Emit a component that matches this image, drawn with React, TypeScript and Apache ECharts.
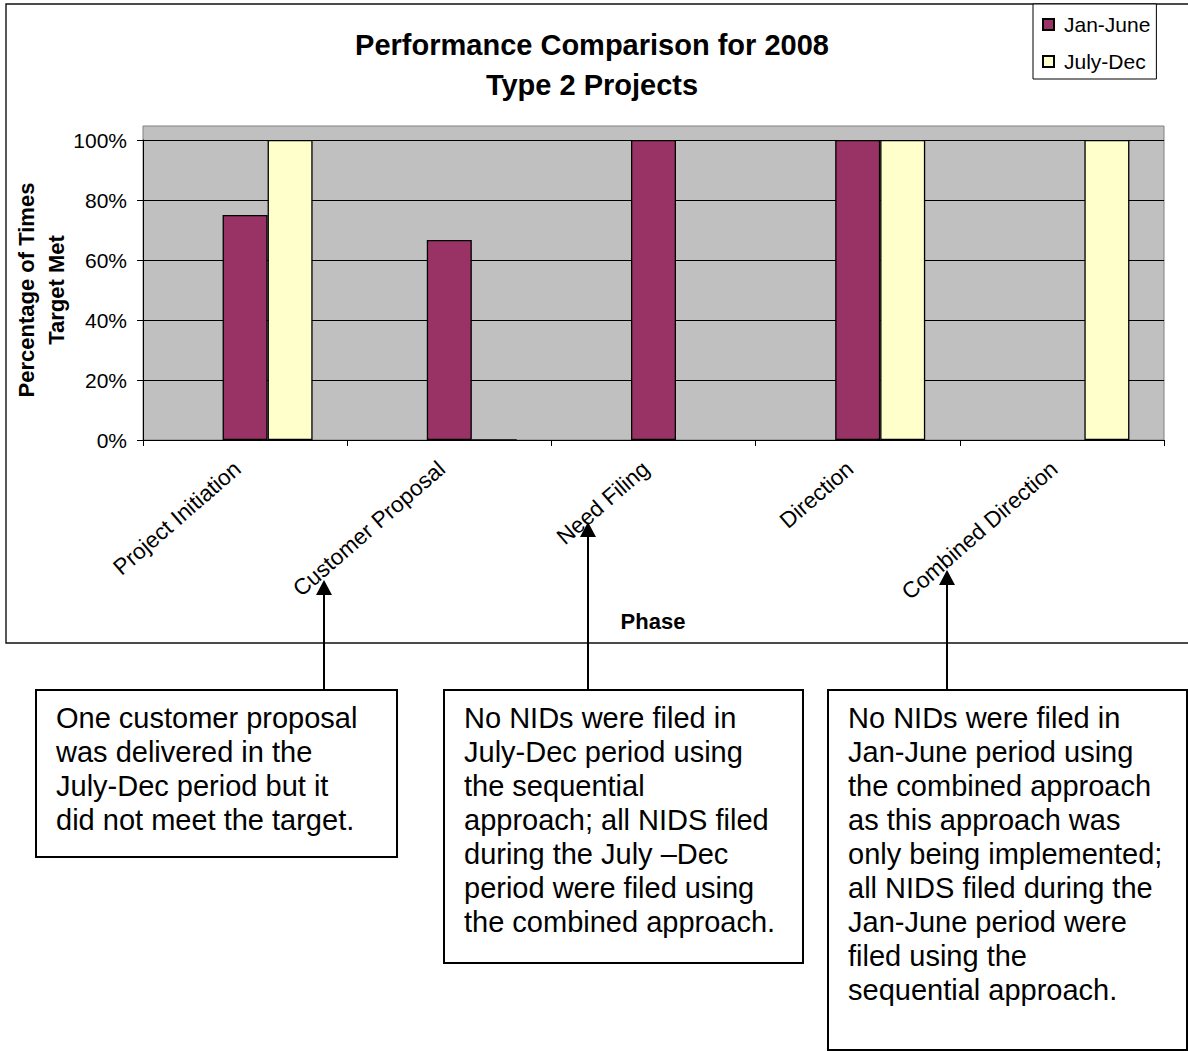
import React, { useEffect, useRef } from "react";
import * as echarts from "echarts";

const categories = ["Project Initiation", "Customer Proposal", "Need Filing", "Direction", "Combined Direction"];
const placeholderValues = [null, null, null, null, null];
const janJuneValues = [0.75, 0.667, 1.0, 1.0, null];
const julyDecValues = [1.0, 0, null, 1.0, 1.0];
const seriesNames = ["Jan-June", "July-Dec"];
const titleLines = ["Performance Comparison for 2008", "Type 2 Projects"];
const yAxisTitleLines = ["Percentage of Times", "Target Met"];
const xAxisTitle = "Phase";
const noteTexts = [
  "One customer proposal\nwas delivered in the\nJuly-Dec period but it\ndid not meet the target.",
  "No NIDs were filed in\nJuly-Dec period using\nthe sequential\napproach; all NIDS filed\nduring the July \u2013Dec\nperiod were filed using\nthe combined approach.",
  "No NIDs were filed in\nJan-June period using\nthe combined approach\nas this approach was\nonly being implemented;\nall NIDS filed during the\nJan-June period were\nfiled using the\nsequential approach.",
];

const FONT = "'Liberation Sans', Arial, Helvetica, sans-serif";

export default function App() {
  const ref = useRef<HTMLDivElement>(null);

  useEffect(() => {
    if (!ref.current) return;
    const chart = echarts.init(ref.current, null, { renderer: "svg" });

    const notes = [
      { x: 36, y: 690, w: 361, h: 167, tx: 56, arrowX: 324, tipY: 580 },
      { x: 444, y: 690, w: 359, h: 273, tx: 464, arrowX: 588, tipY: 522 },
      { x: 828, y: 690, w: 359, h: 360, tx: 848, arrowX: 947, tipY: 570 },
    ];

    const graphics: any[] = [
      {
        type: "rect",
        z: -10,
        shape: { x: 6, y: 4, width: 1200, height: 639 },
        style: { fill: "none", stroke: "#111", lineWidth: 1.4 },
        silent: true,
      },
      {
        type: "rect",
        shape: { x: 143, y: 126, width: 1021, height: 14 },
        style: { fill: "#C0C0C0", stroke: "none" },
        silent: true,
      },
      {
        type: "polyline",
        shape: { points: [[143, 140], [143, 126], [1164, 126], [1164, 140]] },
        style: { fill: "none", stroke: "#808080", lineWidth: 1 },
        silent: true,
      },
      {
        type: "text",
        x: 41,
        y: 290,
        rotation: Math.PI / 2,
        style: {
          text: yAxisTitleLines.join("\n"),
          font: `bold 22px ${FONT}`,
          fill: "#000",
          align: "center",
          verticalAlign: "middle",
          lineHeight: 30,
        },
      },
      {
        type: "text",
        x: 653,
        y: 621,
        style: {
          text: xAxisTitle,
          font: `bold 22px ${FONT}`,
          fill: "#000",
          align: "center",
          verticalAlign: "middle",
        },
      },
    ];

    notes.forEach((n, i) => {
      graphics.push({
        type: "line",
        shape: { x1: n.arrowX, y1: n.y, x2: n.arrowX, y2: n.tipY + 12 },
        style: { stroke: "#000", lineWidth: 2 },
      });
      graphics.push({
        type: "polygon",
        shape: { points: [[n.arrowX, n.tipY], [n.arrowX - 8, n.tipY + 15], [n.arrowX + 8, n.tipY + 15]] },
        style: { fill: "#000", stroke: "none" },
      });
      graphics.push({
        type: "rect",
        shape: { x: n.x, y: n.y, width: n.w, height: n.h },
        style: { fill: "#fff", stroke: "#000", lineWidth: 2 },
      });
      graphics.push({
        type: "text",
        x: n.tx,
        y: 701,
        style: {
          text: noteTexts[i],
          font: `29px ${FONT}`,
          fill: "#000",
          align: "left",
          verticalAlign: "top",
          lineHeight: 34,
        },
      });
    });

    const option: any = {
      animation: false,
      backgroundColor: "#fff",
      title: {
        text: titleLines.join("\n"),
        left: 592,
        top: 25,
        padding: 0,
        textAlign: "center",
        textStyle: {
          fontFamily: FONT,
          fontSize: 29,
          fontWeight: "bold",
          color: "#000",
          lineHeight: 40,
        },
      },
      legend: {
        data: seriesNames,
        orient: "vertical",
        left: 1033,
        top: 4,
        padding: [10, 6, 7, 9],
        itemGap: 16,
        itemWidth: 11,
        itemHeight: 11,
        icon: "rect",
        backgroundColor: "#fff",
        borderColor: "#000",
        borderWidth: 1,
        textStyle: {
          fontFamily: FONT,
          fontSize: 21,
          color: "#000",
          lineHeight: 21,
          padding: [0, 0, 0, 5],
        },
      },
      grid: {
        left: 143,
        right: 24,
        top: 140,
        bottom: 611,
        show: true,
        backgroundColor: "#C0C0C0",
        borderColor: "#808080",
        borderWidth: 1,
        containLabel: false,
      },
      xAxis: {
        type: "category",
        data: categories,
        axisLine: { show: true, lineStyle: { color: "#000", width: 1 } },
        axisTick: { show: true, interval: 0, length: 6, lineStyle: { color: "#000" } },
        axisLabel: {
          interval: 0,
          rotate: 41,
          margin: 19,
          padding: [0, 10, 0, 0],
          fontFamily: FONT,
          fontSize: 22.5,
          color: "#000",
        },
        splitLine: { show: false },
      },
      yAxis: {
        type: "value",
        min: 0,
        max: 1,
        interval: 0.2,
        axisLine: { show: true, lineStyle: { color: "#000", width: 1 } },
        axisTick: { show: true, length: 6, lineStyle: { color: "#000" } },
        axisLabel: {
          margin: 16,
          fontFamily: FONT,
          fontSize: 21,
          color: "#000",
          formatter: (v: number) => `${Math.round(v * 100)}%`,
        },
        splitLine: { show: true, lineStyle: { color: "#000", width: 1 } },
      },
      series: [
        {
          name: "Placeholder",
          type: "bar",
          data: placeholderValues,
          barWidth: 45,
          barGap: "0%",
          itemStyle: { color: "#9999FF", borderColor: "#000", borderWidth: 1.3 },
        },
        {
          name: seriesNames[0],
          type: "bar",
          data: janJuneValues,
          barWidth: 45,
          barGap: "0%",
          itemStyle: { color: "#993366", borderColor: "#000", borderWidth: 1.3 },
        },
        {
          name: seriesNames[1],
          type: "bar",
          data: julyDecValues,
          barWidth: 45,
          barGap: "0%",
          itemStyle: { color: "#FFFFCC", borderColor: "#000", borderWidth: 1.3 },
        },
      ],
      graphic: { elements: graphics },
    };

    chart.setOption(option);
    return () => chart.dispose();
  }, []);

  return (
    <div
      ref={ref}
      style={{ position: "absolute", left: 0, top: 0, width: 1188, height: 1051, background: "#fff" }}
    />
  );
}
